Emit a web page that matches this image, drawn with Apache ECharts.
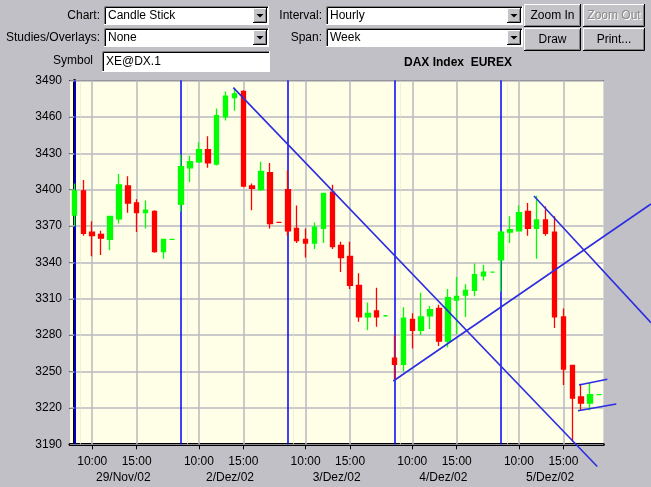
<!DOCTYPE html>
<html><head><meta charset="utf-8">
<script src="https://cdn.jsdelivr.net/npm/echarts@6/dist/echarts.min.js"></script>
<style>html,body{margin:0;padding:0;background:#c0c0c6;}#c{width:651px;height:487px;}</style>
</head><body><div id="c"></div>
<script>
// ---- data ----
const days = ['29/Nov/02', '2/Dez/02', '3/Dez/02', '4/Dez/02', '5/Dez/02'];
const hours = ['08:00','09:00','10:00','11:00','12:00','13:00','14:00','15:00','16:00','17:00','18:00','19:00'];
const hourTickLabels = ['10:00', '15:00'];
const yTicks = [3190, 3220, 3250, 3280, 3310, 3340, 3370, 3400, 3430, 3460, 3490];

const opens = [
  3379, 3399, 3365, 3363, 3359, 3376, 3403, 3389, 3381, 3382, 3349, 3359,
  3388, 3418, 3423, 3433, 3421, 3460, 3476, 3481, 3403, 3400, 3414, 3373,
  3400, 3368, 3359, 3356, 3368, 3398, 3354, 3345, 3321, 3295, 3300, 3296,
  3261, 3256, 3293, 3284, 3296, 3302, 3275, 3309, 3313, 3317, 3329, 3332,
  3342, 3365, 3366, 3382, 3368, 3375, 3365, 3295, 3255, 3229, 3224, 3231
];
const closes = [
  3399, 3364, 3362, 3360, 3378, 3404, 3389, 3381, 3383, 3349, 3359, 3359,
  3419, 3423, 3433, 3422, 3461, 3477, 3479, 3403, 3401, 3415, 3372, 3373,
  3366, 3358, 3356, 3369, 3397, 3353, 3344, 3321, 3295, 3298, 3295, 3296,
  3256, 3294, 3284, 3295, 3301, 3275, 3311, 3312, 3317, 3330, 3332, 3332,
  3365, 3367, 3381, 3368, 3375, 3364, 3295, 3252, 3228, 3224, 3231, 3231
];
const lows = [
  3370, 3362, 3345, 3346, 3350, 3372, 3381, 3365, 3368, 3348, 3343, 3359,
  3382, 3406, 3422, 3418, 3420, 3457, 3465, 3402, 3383, 3399, 3368, 3373,
  3362, 3356, 3344, 3351, 3356, 3351, 3332, 3318, 3291, 3284, 3287, 3296,
  3243, 3250, 3269, 3280, 3285, 3271, 3270, 3281, 3295, 3312, 3325, 3332,
  3316, 3356, 3366, 3362, 3343, 3362, 3286, 3239, 3192, 3218, 3218, 3231
];
const highs = [
  3405, 3408, 3374, 3366, 3378, 3413, 3411, 3392, 3391, 3383, 3359, 3359,
  3429, 3428, 3439, 3444, 3467, 3481, 3484, 3482, 3405, 3423, 3422, 3373,
  3416, 3387, 3368, 3373, 3397, 3404, 3357, 3357, 3331, 3307, 3319, 3296,
  3280, 3303, 3298, 3315, 3304, 3305, 3318, 3328, 3322, 3339, 3338, 3332,
  3366, 3378, 3387, 3389, 3395, 3386, 3378, 3302, 3255, 3240, 3241, 3231
];
// flat (open == close) bars drawn red instead of green
const redFlatBars = [23];

// drawn trend lines: [candle index, price] endpoints
const trendLines = [
  [[17.87, 3484.1], [58.81, 3171.7]],
  [[51.69, 3394.8], [64.85, 3290.3]],
  [[35.87, 3242.2], [64.85, 3388.2]],
  [[56.75, 3238.9], [59.94, 3243.6]],
  [[56.64, 3217.7], [60.95, 3223.2]]
];

// ---- derived ----
const perDay = hours.length;
const nBars = days.length * perDay;
const cats = [];
days.forEach(d => hours.forEach(h => cats.push(d + ' ' + h)));
const isHourLabel = (i) => hourTickLabels.indexOf(hours[i % perDay]) >= 0;

const GREEN = '#00ff00', RED = '#ff0000';
const candles = opens.map((o, i) => {
  const item = { value: [o, closes[i], lows[i], highs[i]] };
  if (o === closes[i]) {
    const c = redFlatBars.indexOf(i) >= 0 ? RED : GREEN;
    item.itemStyle = { color: c, color0: c, borderColor: c, borderColor0: c, borderColorDoji: c };
  }
  return item;
});

const xMin = -0.5, xMax = nBars - 0.5;
const yMin = yTicks[0], yMax = yTicks[yTicks.length - 1];
const gridLines = [];
yTicks.forEach(v => gridLines.push({ coords: [[xMin, v], [xMax, v]] }));
for (let i = 0; i < nBars; i++) if (isHourLabel(i)) gridLines.push({ coords: [[i, yMin], [i, yMax]] });
const dayStarts = days.map((d, k) => k * perDay);
const sepLines = dayStarts.map(s => ({ coords: [[s, yMin], [s, yMax]] }));
const dotLines = dayStarts.map(s => ({ coords: [[s + 0.65, yMin], [s + 0.65, yMax]] }));
const dayCenters = days.map((d, k) => k * perDay + (perDay - 1) / 2);
const trendData = trendLines.map(l => ({ coords: l }));

// ---- UI widgets (form controls above the chart) ----
const FONT = '12px "Liberation Sans", Arial, sans-serif';
const ui = [];
function pl(points, stroke) { ui.push({ type: 'polyline', silent: true, shape: { points }, style: { stroke, fill: null, lineWidth: 1 } }); }
function sunken(x, y, w, h) {
  ui.push({ type: 'rect', silent: true, shape: { x, y, width: w, height: h }, style: { fill: '#ffffff' } });
  pl([[x + 0.5, y + h], [x + 0.5, y + 0.5], [x + w, y + 0.5]], '#808080');
  pl([[x + 1.5, y + h - 1], [x + 1.5, y + 1.5], [x + w - 1, y + 1.5]], '#000000');
  pl([[x, y + h - 0.5], [x + w - 0.5, y + h - 0.5], [x + w - 0.5, y]], '#ffffff');
}
function raised(x, y, w, h) {
  ui.push({ type: 'rect', silent: true, shape: { x, y, width: w, height: h }, style: { fill: '#c4c4c8' } });
  pl([[x + 0.5, y + h - 1], [x + 0.5, y + 0.5], [x + w - 1, y + 0.5]], '#ffffff');
  pl([[x + 1.5, y + h - 1.5], [x + w - 1.5, y + h - 1.5], [x + w - 1.5, y + 1.5]], '#808080');
  pl([[x, y + h - 0.5], [x + w - 0.5, y + h - 0.5], [x + w - 0.5, y]], '#000000');
}
function text(t, x, y, align, opts) {
  ui.push({ type: 'text', silent: true, style: Object.assign({ text: t, x, y, align, verticalAlign: 'middle', fill: '#000', font: FONT }, opts || {}) });
}
function dropdown(x, y, w, h, label) {
  sunken(x, y, w, h);
  raised(x + w - 16, y + 2, 14, h - 4);
  const cx = x + w - 9, cy = y + h / 2;
  ui.push({ type: 'polygon', silent: true, shape: { points: [[cx - 3.5, cy - 1.5], [cx + 3.5, cy - 1.5], [cx, cy + 2]] }, style: { fill: '#000' } });
  text(label, x + 4, y + h / 2 + 0.5, 'left');
}
function button(x, y, w, h, label, disabled) {
  raised(x, y, w, h);
  if (disabled) text(label, x + w / 2 + 1, y + h / 2 + 1.5, 'center', { fill: '#ffffff' });
  text(label, x + w / 2, y + h / 2 + 0.5, 'center', disabled ? { fill: '#8a8a8a' } : null);
}
text('Chart:', 100, 16, 'right');
text('Studies/Overlays:', 100, 38, 'right');
text('Symbol', 93, 61, 'right');
text('Interval:', 322, 16, 'right');
text('Span:', 322, 38, 'right');
dropdown(104, 6, 165, 19, 'Candle Stick');
dropdown(104, 28, 165, 19, 'None');
sunken(102, 51, 168, 21);
text('XE@DX.1', 106, 61.5, 'left');
dropdown(326, 6, 197, 19, 'Hourly');
dropdown(326, 28, 197, 19, 'Week');
button(524, 4, 57, 23, 'Zoom In');
button(583, 4, 62, 23, 'Zoom Out', true);
button(524, 28, 57, 23, 'Draw');
button(583, 28, 62, 23, 'Print...');
text('DAX Index  EUREX', 404, 63, 'left', { font: 'bold 12px "Liberation Sans", Arial, sans-serif' });

// ---- chart ----
const chart = echarts.init(document.getElementById('c'), null, { renderer: 'canvas' });
const axisFont = { color: '#000', fontSize: 12, fontFamily: '"Liberation Sans", Arial, sans-serif' };
chart.setOption({
  animation: false,
  backgroundColor: '#c0c0c6',
  graphic: ui,
  grid: { left: 70, right: 47.6, top: 80.5, bottom: 42.7, show: true, backgroundColor: '#ffffe8', borderWidth: 0 },
  xAxis: [
    {
      type: 'category', data: cats, boundaryGap: true, position: 'bottom',
      axisLine: { show: true, lineStyle: { color: '#000', width: 3 } },
      axisTick: { show: true, alignWithLabel: true, interval: (i) => isHourLabel(i), length: 5, lineStyle: { color: '#000', width: 1 } },
      axisLabel: Object.assign({ interval: (i) => isHourLabel(i), formatter: (v) => v.split(' ')[1], margin: 11 }, axisFont),
      splitLine: { show: false }
    },
    {
      type: 'value', min: xMin, max: xMax, position: 'bottom',
      axisLine: { show: false }, axisTick: { show: false }, splitLine: { show: false },
      axisLabel: Object.assign({ customValues: dayCenters, formatter: (v) => days[Math.round((v - (perDay - 1) / 2) / perDay)], margin: 27 }, axisFont)
    },
    {
      type: 'value', min: xMin, max: xMax, position: 'top',
      axisLine: { show: true, lineStyle: { color: '#303030', width: 1 } },
      axisTick: { show: false }, axisLabel: { show: false }, splitLine: { show: false }
    }
  ],
  yAxis: [
    {
      type: 'value', min: yMin, max: yMax, position: 'left',
      axisLine: { show: true, lineStyle: { color: '#000', width: 2 } },
      axisTick: { show: true, customValues: yTicks, length: 5, lineStyle: { color: '#000', width: 1 } },
      axisLabel: Object.assign({ customValues: yTicks, margin: 8, formatter: (v) => String(v) }, axisFont),
      splitLine: { show: false }
    },
    {
      type: 'value', min: yMin, max: yMax, position: 'right',
      axisLine: { show: true, lineStyle: { color: '#000', width: 3 } },
      axisTick: { show: false }, axisLabel: { show: false }, splitLine: { show: false }
    }
  ],
  series: [
    { type: 'lines', coordinateSystem: 'cartesian2d', xAxisIndex: 1, yAxisIndex: 0, silent: true, z: 1,
      data: gridLines, lineStyle: { color: '#b8b8c0', width: 1.5, opacity: 1 } },
    { type: 'lines', coordinateSystem: 'cartesian2d', xAxisIndex: 1, yAxisIndex: 0, silent: true, z: 1,
      data: dotLines, lineStyle: { color: '#e0e0cc', width: 1, type: 'dotted', opacity: 1 } },
    { type: 'lines', coordinateSystem: 'cartesian2d', xAxisIndex: 1, yAxisIndex: 0, silent: true, z: 1,
      data: sepLines, lineStyle: { color: '#0000ff', width: 1.5, opacity: 1 } },
    { type: 'candlestick', xAxisIndex: 0, yAxisIndex: 0, z: 2, barWidth: 5, silent: true,
      data: candles,
      itemStyle: { color: GREEN, color0: RED, borderColor: GREEN, borderColor0: RED, borderWidth: 1.3 } },
    { type: 'lines', coordinateSystem: 'cartesian2d', xAxisIndex: 1, yAxisIndex: 0, silent: true, z: 3, clip: false,
      data: trendData, lineStyle: { color: '#2c2ce0', width: 1.6, opacity: 1 } }
  ]
});
</script>
</body></html>
